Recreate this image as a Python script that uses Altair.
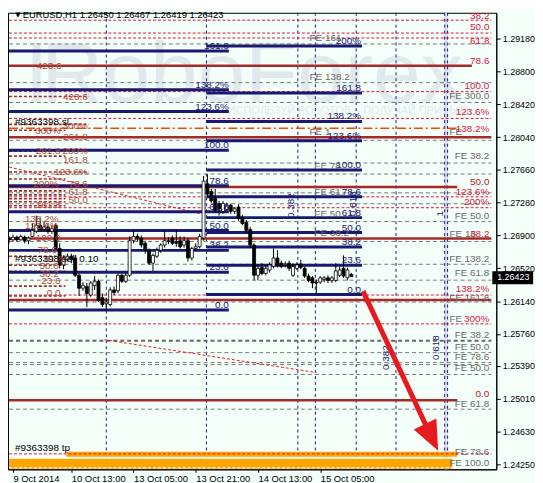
import altair as alt
import pandas as pd

# ---------------- candles (H1 bars, index 0 = 9 Oct 21:00) ----------------
opens = [1.2687, 1.2685, 1.2688, 1.2685, 1.2688, 1.2684, 1.2689, 1.2695, 1.2702, 1.2697,
         1.2700, 1.2695, 1.2702, 1.2675, 1.2656, 1.2662, 1.2666, 1.2664, 1.2644, 1.2629,
         1.2631, 1.2621, 1.2632, 1.2637, 1.2618, 1.2611, 1.2610, 1.2627, 1.2626, 1.2644,
         1.2637, 1.2644, 1.2684, 1.2689, 1.2687, 1.2681, 1.2672, 1.2658, 1.2666, 1.2673,
         1.2679, 1.2684, 1.2687, 1.2683, 1.2684, 1.2679, 1.2684, 1.2664, 1.2675, 1.2677,
         1.2687, 1.2750, 1.2741, 1.2733, 1.2727, 1.2718, 1.2720, 1.2725, 1.2718, 1.2723,
         1.2711, 1.2705, 1.2697, 1.2679, 1.2644, 1.2653, 1.2646, 1.2650, 1.2654, 1.2664,
         1.2658, 1.2656, 1.2658, 1.2644, 1.2652, 1.2657, 1.2652, 1.2643, 1.2641, 1.2636,
         1.2636, 1.2639, 1.2641, 1.2638, 1.2638, 1.2644, 1.2652, 1.2641, 1.26450]
closes = [1.2685, 1.2688, 1.2685, 1.2689, 1.2684, 1.2687, 1.2696, 1.2702, 1.2697, 1.2700,
          1.2695, 1.2698, 1.2675, 1.2656, 1.2664, 1.2666, 1.2662, 1.2644, 1.2629, 1.2632,
          1.2623, 1.2635, 1.2637, 1.2615, 1.2610, 1.2613, 1.2627, 1.2624, 1.2644, 1.2637,
          1.2644, 1.2684, 1.2689, 1.2687, 1.2679, 1.2673, 1.2658, 1.2667, 1.2673, 1.2679,
          1.2684, 1.2683, 1.2681, 1.2681, 1.2677, 1.2684, 1.2664, 1.2675, 1.2677, 1.2689,
          1.2753, 1.2738, 1.2730, 1.2719, 1.2721, 1.2727, 1.2725, 1.2718, 1.2721, 1.2710,
          1.2704, 1.2696, 1.2679, 1.2644, 1.2652, 1.2646, 1.2652, 1.2656, 1.2664, 1.2656,
          1.2654, 1.2657, 1.2652, 1.2654, 1.2656, 1.2653, 1.2643, 1.2638, 1.2635, 1.2635,
          1.2641, 1.2641, 1.2638, 1.2641, 1.2649, 1.2650, 1.2643, 1.2650, 1.26423]
highs = [1.2689, 1.2691, 1.2690, 1.2691, 1.2690, 1.2689, 1.2704, 1.2713, 1.2710, 1.2706,
         1.2704, 1.2702, 1.2704, 1.2681, 1.2667, 1.2669, 1.2669, 1.2667, 1.2646, 1.2636,
         1.2635, 1.2637, 1.2643, 1.2639, 1.2623, 1.2618, 1.2630, 1.2631, 1.2646, 1.2646,
         1.2647, 1.2689, 1.2695, 1.2692, 1.2690, 1.2684, 1.2675, 1.2669, 1.2676, 1.2681,
         1.2695, 1.2688, 1.2690, 1.2696, 1.2689, 1.2689, 1.2687, 1.2677, 1.2681, 1.2692,
         1.2759, 1.2761, 1.2744, 1.2744, 1.2730, 1.2730, 1.2728, 1.2727, 1.2723, 1.2726,
         1.2714, 1.2708, 1.2700, 1.2681, 1.2656, 1.2658, 1.2656, 1.2659, 1.2675, 1.2673,
         1.2661, 1.2660, 1.2661, 1.2658, 1.2659, 1.2662, 1.2654, 1.2646, 1.2643, 1.2639,
         1.2643, 1.2643, 1.2644, 1.2643, 1.2658, 1.2654, 1.2667, 1.2653, 1.26467]
lows = [1.2681, 1.2683, 1.2683, 1.2684, 1.2681, 1.2680, 1.2688, 1.2693, 1.2695, 1.2695,
        1.2692, 1.2692, 1.2673, 1.2652, 1.2651, 1.2660, 1.2658, 1.2642, 1.2620, 1.2626,
        1.2607, 1.2619, 1.2627, 1.2613, 1.2607, 1.2603, 1.2608, 1.2621, 1.2623, 1.2635,
        1.2635, 1.2642, 1.2681, 1.2683, 1.2676, 1.2669, 1.2656, 1.2649, 1.2664, 1.2670,
        1.2676, 1.2680, 1.2679, 1.2677, 1.2675, 1.2676, 1.2660, 1.2661, 1.2672, 1.2675,
        1.2684, 1.2736, 1.2728, 1.2716, 1.2713, 1.2715, 1.2718, 1.2715, 1.2715, 1.2707,
        1.2702, 1.2693, 1.2676, 1.2638, 1.2638, 1.2644, 1.2644, 1.2647, 1.2652, 1.2653,
        1.2652, 1.2653, 1.2649, 1.2642, 1.2650, 1.2651, 1.2641, 1.2636, 1.2629, 1.2622,
        1.2634, 1.2636, 1.2635, 1.2635, 1.2636, 1.2642, 1.2641, 1.2638, 1.26419]
bars = list(range(len(opens)))

# ---------------- axes ----------------
price_ticks = [1.29180, 1.28800, 1.28420, 1.28040, 1.27660, 1.27280, 1.26900,
               1.26520, 1.26140, 1.25760, 1.25390, 1.25010, 1.24630, 1.24250]
time_tick_bars = [1, 16, 32, 48, 64, 80]
time_tick_labels = ["9 Oct 2014", "10 Oct 13:00", "13 Oct 05:00",
                    "13 Oct 21:00", "14 Oct 13:00", "15 Oct 05:00"]
x_range = [1, 124]
y_range = [1.24193, 1.29479]
title_text = "EURUSD,H1  1.26450 1.26467 1.26419 1.26423"
last_price = 1.26423

# ---------------- Fibonacci retracements ----------------
fib_a_text = ["161.8", "138.2%", "123.6%", "100.0", "78.6", "61.8", "50.0", "38.2", "23.6", "0.0"]
fib_a_price = [1.29037, 1.28589, 1.28336, 1.27888, 1.27475, 1.27176, 1.26957, 1.26728, 1.26475, 1.26038]
fib_a_span = [0, 56.5]
fib_b_text = ["200%", "161.8", "138.2%", "123.6%", "100.0", "78.6", "61.8", "50.0", "38.2", "23.6", "0.0"]
fib_b_price = [1.29095, 1.28549, 1.28221, 1.27998, 1.27658, 1.27348, 1.27107, 1.26934, 1.26768, 1.26555, 1.26216]
fib_b_span = [50.75, 90.75]

# ---------------- other horizontal levels ----------------
brown_price = [1.28865, 1.28038, 1.27463, 1.26866, 1.26153, 1.24993]
brown_end = [119, 124, 115.25, 124, 124, 115.25]
crimson_price = [1.29393, 1.29244, 1.29187, 1.28566, 1.28256, 1.27348, 1.27222, 1.26211, 1.25877, 1.24372]
gray_price = [1.29118, 1.28670, 1.28440, 1.28003, 1.27739, 1.27612, 1.27394, 1.27268, 1.27061,
              1.26831, 1.26567, 1.26383, 1.26130, 1.25544, 1.25429, 1.25406, 1.25291, 1.24889]
gray_bold_price = [1.25682]
short_price = [1.28509, 1.28187, 1.28118, 1.27877, 1.27819, 1.27635, 1.27555, 1.27417, 1.27371,
               1.27325, 1.27291, 1.27245, 1.26659, 1.26555, 1.26486, 1.26314, 1.26199]
short_end = [20.5, 20.5, 14.5, 20.5, 14.5, 20.5, 14.5, 14.5, 14.5,
             14.5, 14.5, 14.5, 14.5, 14.5, 14.5, 14.5, 14.5]
stop_loss_price = [1.28141]
stop_loss_end = [115.0]
trend_x1 = [0, 24.5]
trend_x2 = [49, 79]
trend_y1 = [1.27694, 1.25694]
trend_y2 = [1.27153, 1.25313]
vline_bars = [25, 50.75, 74.25, 78.75, 89.25, 99.5, 112, 112.75]
band_bars = [112, 112.75]
tp_x1 = [14.75, 0]
tp_x2 = [115.25, 114]
tp_y1 = [1.24337, 1.24200]
tp_y2 = [1.24395, 1.24314]
tp_white_price = [1.24326, 1.24211]
arrow_x = [91, 108.55]
arrow_y = [1.26256, 1.24571]
last_box_x = [124.25, 134.75]
last_box_y = [1.26337, 1.26486]

# ---------------- labels ----------------
left_lab_text = ["423.6", "423.6", "300%", "300%", "261.8", "261.8", "200%", "161.8", "123.6%", "200%",
                 "78.6", "61.8", "50.0", "161.8", "138.2%", "123.6%", "100.0", "78.6", "61.8", "50.0",
                 "38.2", "23.6", "0.0"]
left_lab_x = [13.5, 20.25, 20.25, 13.25, 20.25, 13.25, 20.25, 20.25, 20.25, 12.75,
              20.25, 20.25, 20.25, 13.25, 12.75, 12.75, 13.25, 12.25, 14, 12.75,
              12.75, 13.25, 13.25]
left_lab_y = [1.28865, 1.28509, 1.28164, 1.28106, 1.28038, 1.27877, 1.27877, 1.27773, 1.27635, 1.27497,
              1.27497, 1.27406, 1.27314, 1.27256, 1.27095, 1.27015, 1.26866, 1.26728, 1.26624, 1.26544,
              1.26452, 1.26371, 1.26234]
right_crimson_text = ["38.2", "50.0", "61.8", "78.6", "100.0", "123.6%", "138.2%", "123.6%", "200%",
                      "38.2", "138.2%", "300%"]
right_crimson_y = [1.29439, 1.29313, 1.29152, 1.28922, 1.28635, 1.28325, 1.28129, 1.27406, 1.27291,
                   1.26923, 1.26280, 1.25935]
right_brown_text = ["50.0", "0.0"]
right_brown_y = [1.27520, 1.25062]
right_gray_text = ["FE 300.0", "FE 38.2", "FE 50.0", "FE 138.2", "FE 61.8", "FE 161.8", "FE 38.2",
                   "FE 50.0", "FE 78.6", "FE 50.0", "FE 61.8", "FE 78.6", "FE 100.0"]
right_gray_y = [1.28520, 1.27819, 1.27130, 1.26624, 1.26463, 1.26176, 1.25751,
                1.25613, 1.25498, 1.25360, 1.24947, 1.24395, 1.24269]
gray_left_text = ["FE", "FE 16", "FE"]
gray_left_y = [1.28095, 1.26923, 1.25935]
gray_mid_text = ["FE 161", "FE 138.2", "FE 1", "FE 78.", "FE 61.", "FE 50.", "FE 38.2"]
gray_mid_x = [77.25, 77.25, 77.25, 78.5, 78.5, 78.5, 78.5]
gray_mid_y = [1.29187, 1.28738, 1.28095, 1.27704, 1.27406, 1.27153, 1.26934]
rot_text = ["0.382", "0.618", "1", "0.382", "0.618"]
rot_x = [72.5, 88.5, 110.75, 97, 109.75]
rot_y = [1.27245, 1.27268, 1.27153, 1.25487, 1.25602]
note_text = ["#9363398 sl", "#9363398 sell 0.10", "#9363398 tp"]
note_y = [1.28210, 1.26624, 1.24441]
watermark_text = ["I", "RoboForex"]
watermark_x = [4.0, 8.25]
watermark_y = [1.28451, 1.28451]
slogan_text = "ИСПОЛЬЗУЙ РОБОТОВ – ПОЛУЧАЙ ПРИБЫЛЬ"
slogan_x = 87.75
slogan_y = 1.28336

# ---------------- styles ----------------
BG = "#F5FFFA"
NAVY = "#191970"
BROWN = "#A52A2A"
CRIMSON = "#DC143C"
GRAY = "#7A7A7A"
GRAY_TXT = "#6A6A6A"
ORANGE = "#FFA500"
RED = "#E8191F"
WM = "#E0E9EC"
FONT = "Liberation Sans"

xs = alt.Scale(domain=x_range, nice=False, zero=False)
ys = alt.Scale(domain=y_range, nice=False, zero=False)
x_label_expr = " : ".join(
    f"datum.value == {b} ? '{t}'" for b, t in zip(time_tick_bars, time_tick_labels)) + " : ''"
xaxis = alt.Axis(values=time_tick_bars, labelExpr=x_label_expr, labelAlign="left",
                 labelFont=FONT, labelFontSize=9.5, labelColor="black", labelPadding=1,
                 labelOverlap=False, labelFlush=False, tickColor="black", tickSize=3,
                 domainColor="black", grid=False, title="")
yaxis = alt.Axis(orient="right", values=price_ticks, format=".5f", labelFont=FONT,
                 labelFontSize=9, labelColor="black", labelPadding=2, labelOverlap=False,
                 tickColor="black", tickSize=4, domainColor="black", grid=False, title="")


def X(f="x"):
    return alt.X(f"{f}:Q", scale=xs, axis=xaxis)


def Y(f="y"):
    return alt.Y(f"{f}:Q", scale=ys, axis=yaxis)


def seg_df(x1, x2, y):
    n = len(y)
    a = x1 if isinstance(x1, list) else [x1] * n
    b = x2 if isinstance(x2, list) else [x2] * n
    return pd.DataFrame({"x": a, "x2": b, "y": y})


def hrule(df, **kw):
    return alt.Chart(df).mark_rule(clip=True, **kw).encode(
        x=X(), x2=alt.X2("x2:Q"), y=Y())


def texts(x, y, t, **kw):
    n = len(t)
    xx = x if isinstance(x, list) else [x] * n
    yy = y if isinstance(y, list) else [y] * n
    df = pd.DataFrame({"x": xx, "y": yy, "t": t})
    return alt.Chart(df).mark_text(**kw).encode(x=X(), y=Y(), text="t:N")


layers = []

# watermark
layers.append(texts(watermark_x, watermark_y, watermark_text, align="left", baseline="alphabetic",
                    font=FONT, fontSize=86, color=WM, clip=True))
layers.append(texts(slogan_x, slogan_y, [slogan_text], align="center", baseline="middle",
                    font=FONT, fontSize=11, color=WM))

# lavender time band + vertical dashed lines
layers.append(alt.Chart(pd.DataFrame({"x": [band_bars[0]], "x2": [band_bars[1]]}))
              .mark_rect(color="#DADAF2").encode(x=X(), x2=alt.X2("x2:Q")))
layers.append(alt.Chart(pd.DataFrame({"x": vline_bars}))
              .mark_rule(color=NAVY, strokeWidth=1, strokeDash=[3, 3]).encode(x=X()))

# take-profit orange band
tp_df = pd.DataFrame({"x": tp_x1, "x2": tp_x2, "y": tp_y1, "y2": tp_y2})
layers.append(alt.Chart(tp_df).mark_rect(color=ORANGE, clip=True).encode(
    x=X(), x2=alt.X2("x2:Q"), y=Y(), y2=alt.Y2("y2:Q")))
layers.append(hrule(seg_df(0, 115.25, tp_white_price), color="white", strokeWidth=1, strokeDash=[3, 2]))

# dashed levels
layers.append(hrule(seg_df(0, 124, gray_price), color=GRAY, strokeWidth=1, strokeDash=[4, 3]))
layers.append(hrule(seg_df(0, 124, gray_bold_price), color="#666666", strokeWidth=2, strokeDash=[4, 3]))
layers.append(hrule(seg_df(0, 124, crimson_price), color=CRIMSON, strokeWidth=1, strokeDash=[3, 2]))
layers.append(hrule(seg_df(0, short_end, short_price), color=BROWN, strokeWidth=1.6, strokeDash=[3, 2]))

# trendlines
trend_df = pd.DataFrame({"x": trend_x1, "x2": trend_x2, "y": trend_y1, "y2": trend_y2})
layers.append(alt.Chart(trend_df).mark_rule(clip=True, color="#E8202A", strokeWidth=1,
                                            strokeDash=[3, 2]).encode(
    x=X(), x2=alt.X2("x2:Q"), y=Y(), y2=alt.Y2("y2:Q")))

# stop loss line
layers.append(hrule(seg_df(0, stop_loss_end, stop_loss_price), color="#FF4500", strokeWidth=1.5,
                    strokeDash=[9, 3, 2, 3]))

# brown solid levels
layers.append(hrule(seg_df(0, brown_end, brown_price), color=BROWN, strokeWidth=2.5))

# Fibonacci retracements
layers.append(hrule(seg_df(fib_a_span[0], fib_a_span[1], fib_a_price), color=NAVY, strokeWidth=3))
layers.append(hrule(seg_df(fib_b_span[0], fib_b_span[1], fib_b_price), color=NAVY, strokeWidth=3))

# candles
candles = pd.DataFrame({"x": bars, "o": opens, "h": highs, "l": lows, "c": closes})
candles["fill"] = ["white" if c >= o else "black" for o, c in zip(opens, closes)]
layers.append(alt.Chart(candles).mark_rule(color="black", strokeWidth=1, clip=True).encode(
    x=X(), y=Y("l"), y2=alt.Y2("h:Q")))
layers.append(alt.Chart(candles).mark_bar(size=3, stroke="black", strokeWidth=0.8, clip=True).encode(
    x=X(), y=Y("o"), y2=alt.Y2("c:Q"), fill=alt.Fill("fill:N", scale=None)))

# labels
layers.append(texts(left_lab_x, left_lab_y, left_lab_text, align="right", baseline="middle",
                    font=FONT, fontSize=10, color="#B04A3C"))
layers.append(texts(fib_a_span[1], fib_a_price, fib_a_text, align="right", baseline="alphabetic",
                    dy=-2, font=FONT, fontSize=10, color=NAVY))
layers.append(texts(fib_b_span[1] - 0.25, fib_b_price, fib_b_text, align="right", baseline="alphabetic",
                    dy=-2, font=FONT, fontSize=10, color=NAVY))
layers.append(texts(gray_mid_x, gray_mid_y, gray_mid_text, align="left", baseline="middle",
                    font=FONT, fontSize=10, color=GRAY_TXT))
layers.append(texts(123.5, right_gray_y, right_gray_text, align="right", baseline="middle",
                    font=FONT, fontSize=10, color=GRAY_TXT))
layers.append(texts(113.25, gray_left_y, gray_left_text, align="left", baseline="middle",
                    font=FONT, fontSize=10, color=GRAY_TXT))
layers.append(texts(123.5, right_crimson_y, right_crimson_text, align="right", baseline="middle",
                    font=FONT, fontSize=10, color=CRIMSON))
layers.append(texts(123.5, right_brown_y, right_brown_text, align="right", baseline="middle",
                    font=FONT, fontSize=10, color="#B22222"))
layers.append(texts(rot_x, rot_y, rot_text, angle=270, align="center", baseline="middle",
                    font=FONT, fontSize=10, color=NAVY))
layers.append(texts(1.5, note_y, note_text, align="left", baseline="middle",
                    font=FONT, fontSize=10, color="black"))
layers.append(texts(3.5, 1.29451, [title_text], align="left", baseline="middle",
                    font=FONT, fontSize=9.5, color="black"))
layers.append(texts(1.6, 1.29451, ["▼"], align="left", baseline="middle",
                    font="DejaVu Sans", fontSize=7, color="black"))

# red arrow
arrow_df = pd.DataFrame({"x": [arrow_x[0]], "x2": [arrow_x[1]], "y": [arrow_y[0]], "y2": [arrow_y[1]]})
layers.append(alt.Chart(arrow_df).mark_rule(color=RED, strokeWidth=5, strokeCap="butt").encode(
    x=X(), x2=alt.X2("x2:Q"), y=Y(), y2=alt.Y2("y2:Q")))
layers.append(alt.Chart(pd.DataFrame({"x": [arrow_x[1]], "y": [arrow_y[1]]})).mark_point(
    shape="M0,1L-0.8,-0.9L0.8,-0.9Z", filled=True, size=1000, angle=334, color=RED,
    opacity=1).encode(x=X(), y=Y()))

# current price box on the axis
box_df = pd.DataFrame({"x": [last_box_x[0]], "x2": [last_box_x[1]],
                       "y": [last_box_y[0]], "y2": [last_box_y[1]]})
layers.append(alt.Chart(box_df).mark_rect(color="black", clip=False).encode(
    x=X(), x2=alt.X2("x2:Q"), y=Y(), y2=alt.Y2("y2:Q")))
layers.append(texts(125.5, last_price, [f"{last_price:.5f}"], align="left", baseline="middle",
                    font=FONT, fontSize=9, color="white"))

chart = alt.layer(*layers).properties(
    width=492, height=460, padding=0, background=BG
).configure_view(fill=BG, stroke="black", strokeWidth=1)

chart.save("out.html", embed_options={"renderer": "svg", "actions": False})
